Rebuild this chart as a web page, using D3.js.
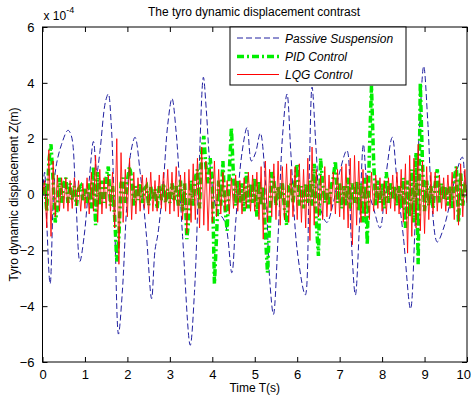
<!DOCTYPE html>
<html>
<head>
<meta charset="utf-8">
<script src="https://cdn.jsdelivr.net/npm/d3@7"></script>
<style>
  body { margin: 0; background: #fff; }
  svg { display: block; font-family: "Liberation Sans", Arial, sans-serif; }
</style>
</head>
<body>
<svg id="chart" width="471" height="402"></svg>
<script>
// values are in units of 1e-4 m
const xTicks = [0, 1, 2, 3, 4, 5, 6, 7, 8, 9, 10];
const yTicks = [-6, -4, -2, 0, 2, 4, 6];
const seriesNames = ["Passive Suspension", "PID Control", "LQG Control"];

// passive suspension: turning points
const passiveT = [0, 0.05, 0.1, 0.18, 0.3, 0.45, 0.6, 0.68, 0.78, 0.88, 0.98, 1.1, 1.2, 1.28, 1.35, 1.48, 1.55, 1.62, 1.7, 1.79,
  1.88, 1.98, 2.08, 2.18, 2.3, 2.45, 2.57, 2.65, 2.72, 2.85, 2.95, 3.05, 3.15, 3.3, 3.48, 3.58, 3.68, 3.79, 3.86, 3.95,
  4.1, 4.3, 4.46, 4.55, 4.7, 4.82, 4.92, 5.02, 5.13, 5.25, 5.35, 5.44, 5.55, 5.65, 5.76, 5.85, 6.0, 6.19, 6.28, 6.35,
  6.45, 6.55, 6.7, 6.85, 7.0, 7.17, 7.27, 7.37, 7.47, 7.56, 7.65, 7.8, 7.95, 8.1, 8.24, 8.35, 8.5, 8.67, 8.78, 8.9,
  8.98, 9.08, 9.18, 9.3, 9.45, 9.6, 9.75, 9.89, 9.95, 10];
const passiveZ = [0, 0.8, -1.0, -3.2, 0.8, 1.8, 2.3, 2.1, 0, -2.4, -1.5, 0.5, 1.9, 0.8, 1.5, 3.3, 3.6, 2.5, -1.0, -5.0,
  -3.5, -0.5, 1.5, 2.05, 0.8, -1.5, -3.73, -2.0, -1.4, 0.5, 2.5, 3.44, 2.2, -1.5, -5.4, -3.5, 0.5, 4.2, 3.0, 1.0,
  -0.5, -1.0, -2.8, -1.0, 1.5, 2.4, 1.2, 1.5, 2.2, 0.5, -3.0, -4.3, -1.5, 2.0, 3.6, 1.5, -2.0, -3.6, 0.5, 3.85,
  1.5, -0.5, -1.0, -0.3, 0.8, 1.58, -1.5, -3.6, -1.0, 1.8, 0.3, -0.5, -1.2, 0.8, 2.05, 0.5, -1.5, -4.1, -1.0, 3.0,
  4.6, 2.5, -0.5, -1.7, -1.2, -0.3, 0.8, 1.34, 0.5, 0];

// PID and LQG: sampled every 0.05 s, one row per second
const sampleStep = 0.05;
const pidZ = [
  0, 0.4, -0.6, 1.2, 1.8, 0.5, -1.0, -0.5, 0.6, -0.3, 0.4, 0.6, -0.3, 0.4, -0.2, 0.3, -0.4, 0.2, 0.3, -0.2,
  0.2, -0.3, 0.4, -0.5, 1.0, -1.1, 0.8, -0.4, 0.5, -0.3, 0.6, 1.0, -0.4, 0.3, -0.8, -2.4, -1.5, 0.4, 0.6, -0.3,
  0.5, 1.0, 0.6, -0.4, 0.3, -0.2, 0.4, -0.3, 0.2, 0.3, -0.4, 0.3, -0.2, 0.2, -0.5, 0.3, -0.2, 0.4, -0.3, 0.2,
  -0.3, 0.4, -0.2, 0.3, -0.4, 0.5, -0.6, 0.4, -1.6, -0.8, 0.5, -0.4, 0.6, 0.9, -0.5, 1.5, 2.1, 1.0, 0.4, 1.3,
  0.6, -3.2, -1.5, 0.5, -0.4, 1.2, -0.5, -1.3, 0.8, 2.4, 0.6, -0.4, 0.5, -0.3, 0.4, -0.6, 0.8, -0.5, 0.4, -0.3,
  0.6, -0.8, 0.5, -0.4, 0.3, -1.4, -2.8, -1.0, 0.8, 0.5, -0.4, 0.3, -0.2, 0.4, -0.5, -1.1, 0.3, 0.4, -0.3, 0.5,
  1.1, -0.4, 0.3, -0.5, 0.4, -0.3, 0.5, -0.4, 1.1, -1.0, -2.2, 1.3, 0.4, -0.3, 0.2, -0.4, 0.3, 0.6, 1.2, -0.3,
  0.4, -0.5, 0.3, -0.4, 0.6, -0.5, 0.4, -0.3, 0.5, -0.6, 0.4, -1.0, 0.6, -1.8, 1.5, 3.9, 1.2, -0.4, 0.5, -0.3,
  0.4, -0.5, 0.8, -0.3, 0.4, -0.2, 0.3, -0.4, 0.3, -0.5, 0.6, -1.2, 0.5, -0.8, 0.9, -1.0, 1.5, -2.5, 4.0, 1.2,
  -0.6, 0.5, -0.4, 0.3, -0.5, 0.4, 0.9, -0.3, 0.4, -0.2, 0.3, -0.4, 0.3, -0.5, 0.6, 1.0, -1.0, 0.8, -0.4, 0.3,
  0.2];
const lqgZ = [
  0, 0.5, -1.2, 1.6, -1.5, 1.2, -0.8, 0.7, -0.6, 0.6, -0.5, 0.6, -0.6, 0.5, -0.5, 0.6, -0.4, 0.5, -0.6, 0.4,
  -0.5, 0.6, -0.7, 0.8, -0.6, 1.4, -1.0, 0.9, -0.7, 0.6, -0.5, 0.7, -0.6, 0.8, -1.2, 2.0, -2.5, 1.5, -1.0, 0.9,
  -0.8, 1.3, -0.9, 0.8, -0.7, 0.6, -0.6, 0.7, -0.5, 0.6, -0.7, 0.8, -0.6, 0.5, -0.6, 0.7, -0.5, 0.8, -0.6, 0.9,
  -0.7, 0.8, -0.6, 1.0, -0.8, 0.7, -0.9, 0.8, -1.4, 0.9, -1.0, 1.1, -0.9, 1.3, -1.2, 1.7, -1.1, 1.2, -1.3, 0.9,
  -1.0, 1.2, -0.8, 0.9, -0.7, 0.8, -0.6, 0.5, -0.7, 0.6, -0.5, 0.7, -0.6, 0.5, -0.7, 0.6, -0.5, 0.8, -0.6, 0.7,
  -0.6, 0.8, -0.9, 1.0, -1.6, 1.2, -1.0, 0.9, -0.8, 1.1, -0.9, 1.2, -1.1, 1.0, -0.9, 1.1, -1.0, 0.9, -0.8, 1.0,
  -0.9, 1.1, -1.0, 0.9, -1.2, 1.3, -1.65, 1.7, -1.1, 0.9, -0.8, 0.7, -0.9, 1.0, -0.8, 0.7, -0.6, 0.8, -0.7, 0.9,
  -0.8, 1.0, -0.9, 1.1, -1.2, 1.3, -1.8, 1.4, -1.1, 1.2, -1.0, 0.9, -0.8, 0.7, -0.9, 0.8, -0.6, 0.7, -0.5, 0.6,
  -0.6, 0.5, -0.7, 0.6, -0.5, 0.7, -0.6, 0.8, -0.7, 0.9, -1.0, 1.1, -2.1, 1.4, -1.5, 1.3, -1.2, 1.8, -1.3, 1.2,
  -1.4, 1.0, -0.9, 0.8, -0.7, 0.8, -0.6, 0.7, -0.5, 0.6, -0.6, 0.7, -0.5, 0.8, -0.9, 1.0, -1.1, 1.1, -0.8, 0.9,
  -0.3];

const W = 471, H = 402;
const margin = {left: 42.5, right: 4, top: 27, bottom: 40};

const svg = d3.select("#chart");

const x = d3.scaleLinear().domain([0, 10]).range([margin.left, W - margin.right]);
const y = d3.scaleLinear().domain([-6, 6]).range([H - margin.bottom, margin.top]);

svg.append("defs").append("clipPath").attr("id", "plotClip")
  .append("rect")
  .attr("x", x(0)).attr("y", y(6))
  .attr("width", x(10) - x(0)).attr("height", y(-6) - y(6));

const plot = svg.append("g").attr("clip-path", "url(#plotClip)");

const passive = passiveT.map((t, i) => [t, passiveZ[i]]);
const pid = pidZ.map((v, i) => [i * sampleStep, v]);
const lqg = lqgZ.map((v, i) => [i * sampleStep, v]);

const smoothLine = d3.line().x(d => x(d[0])).y(d => y(d[1])).curve(d3.curveCatmullRom);
const straightLine = d3.line().x(d => x(d[0])).y(d => y(d[1]));

plot.append("path").datum(passive)
  .attr("d", smoothLine)
  .attr("fill", "none").attr("stroke", "#2020a0").attr("stroke-width", 1)
  .attr("stroke-dasharray", "6,3");

plot.append("path").datum(pid)
  .attr("d", straightLine)
  .attr("fill", "none").attr("stroke", "#00ee00").attr("stroke-width", 3.5)
  .attr("stroke-dasharray", "7,3,2,3");

plot.append("path").datum(lqg)
  .attr("d", straightLine)
  .attr("fill", "none").attr("stroke", "#ff0000").attr("stroke-width", 1)
  .attr("stroke-opacity", 0.85);

// axes, MATLAB style: ticks inward on all four sides
const tickLen = 5;
svg.append("g").attr("transform", `translate(0,${y(-6)})`)
  .call(d3.axisBottom(x).tickValues(xTicks).tickSizeInner(-tickLen).tickSizeOuter(0).tickPadding(8))
  .call(g => g.select(".domain").remove())
  .call(g => g.selectAll("text").attr("font-size", 13).attr("font-family", "Liberation Sans, Arial, sans-serif"))
  // the last label sits on the window edge; pull it in so it stays readable
  .call(g => g.selectAll("text").filter(d => d === 10).attr("text-anchor", "end").attr("dx", 3.5));

svg.append("g").attr("transform", `translate(0,${y(6)})`)
  .call(d3.axisTop(x).tickValues(xTicks).tickSizeInner(-tickLen).tickSizeOuter(0).tickFormat(""))
  .call(g => g.select(".domain").remove());

svg.append("g").attr("transform", `translate(${x(0)},0)`)
  .call(d3.axisLeft(y).tickValues(yTicks).tickSizeInner(-tickLen).tickSizeOuter(0).tickPadding(8))
  .call(g => g.select(".domain").remove())
  .call(g => g.selectAll("text").attr("font-size", 13).attr("font-family", "Liberation Sans, Arial, sans-serif"));

svg.append("g").attr("transform", `translate(${x(10)},0)`)
  .call(d3.axisRight(y).tickValues(yTicks).tickSizeInner(-tickLen).tickSizeOuter(0).tickFormat(""))
  .call(g => g.select(".domain").remove());

svg.append("rect")
  .attr("x", x(0)).attr("y", y(6))
  .attr("width", x(10) - x(0)).attr("height", y(-6) - y(6))
  .attr("fill", "none").attr("stroke", "#000").attr("stroke-width", 1);

// exponent label
const expo = svg.append("text").attr("x", x(0) + 1).attr("y", 20).attr("font-size", 12);
expo.append("tspan").text("x 10");
expo.append("tspan").attr("dy", -7).attr("font-size", 9).text("-4");

// title and axis labels
svg.append("text").attr("x", 254).attr("y", 16).attr("text-anchor", "middle")
  .attr("font-size", 12).text("The tyro dynamic displacement contrast");

svg.append("text").attr("x", x(5)).attr("y", 392).attr("text-anchor", "middle")
  .attr("font-size", 12).text("Time T(s)");

svg.append("text")
  .attr("transform", `translate(18,${y(0)}) rotate(-90)`)
  .attr("text-anchor", "middle").attr("font-size", 12)
  .text("Tyro dynamic displacement Z(m)");

// legend
const legend = svg.append("g");
legend.append("rect")
  .attr("x", 230).attr("y", y(6)).attr("width", 176).attr("height", 58)
  .attr("fill", "#fff").attr("stroke", "#000").attr("stroke-width", 1);

const legendStyles = [
  {stroke: "#2020a0", width: 1, dash: "6,3"},
  {stroke: "#00ee00", width: 3.5, dash: "7,3,2,3"},
  {stroke: "#ff0000", width: 1, dash: null}
];
const legendY = [38, 56.5, 74.5];

seriesNames.forEach((name, i) => {
  const s = legendStyles[i];
  legend.append("line")
    .attr("x1", 237).attr("x2", 279).attr("y1", legendY[i]).attr("y2", legendY[i])
    .attr("stroke", s.stroke).attr("stroke-width", s.width)
    .attr("stroke-dasharray", s.dash);
  legend.append("text")
    .attr("x", 285).attr("y", legendY[i] + 4.5)
    .attr("font-size", 12).attr("font-style", "italic")
    .text(name);
});
</script>
</body>
</html>
